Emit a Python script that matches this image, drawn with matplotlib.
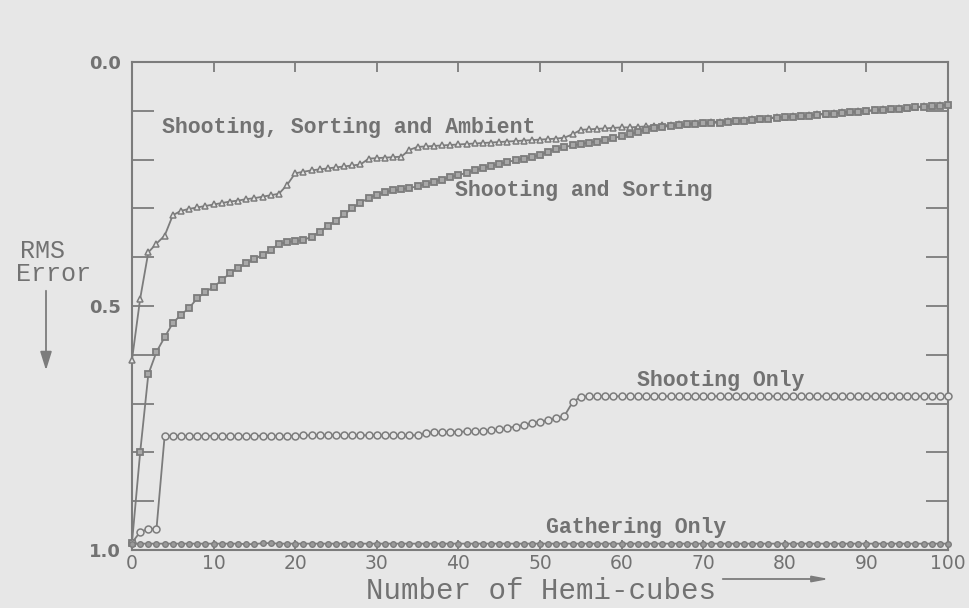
import matplotlib
matplotlib.use("Agg")
import matplotlib.pyplot as plt
from matplotlib.ticker import FixedLocator

# ---------------- data ----------------
hemicubes = list(range(0, 101))

# Shooting, Sorting and Ambient (starts with an extra point at x=0, error 1.0)
ambient_x = [0] + hemicubes
ambient_err = [0.985,
    0.610, 0.485, 0.390, 0.372, 0.356, 0.314, 0.305, 0.301, 0.298, 0.295,
    0.292, 0.289, 0.286, 0.284, 0.281, 0.279, 0.276, 0.273, 0.270, 0.252,
    0.228, 0.225, 0.222, 0.220, 0.218, 0.216, 0.214, 0.212, 0.210, 0.198,
    0.197, 0.196, 0.195, 0.194, 0.180, 0.174, 0.173, 0.172, 0.171, 0.170,
    0.169, 0.168, 0.167, 0.166, 0.165, 0.164, 0.163, 0.162, 0.161, 0.160,
    0.159, 0.158, 0.157, 0.155, 0.148, 0.139, 0.138, 0.137, 0.136, 0.135,
    0.134, 0.134, 0.133, 0.132, 0.131, 0.130, 0.129, 0.128, 0.127, 0.125,
    0.124, 0.123, 0.122, 0.121, 0.120, 0.119, 0.117, 0.116, 0.115, 0.113,
    0.112, 0.111, 0.110, 0.109, 0.107, 0.106, 0.105, 0.103, 0.102, 0.101,
    0.100, 0.098, 0.097, 0.096, 0.095, 0.094, 0.092, 0.091, 0.090, 0.089, 0.087]

# Shooting and Sorting
sorting_err = [
    0.985, 0.800, 0.640, 0.594, 0.564, 0.535, 0.518, 0.504, 0.484, 0.471,
    0.461, 0.447, 0.433, 0.422, 0.412, 0.404, 0.395, 0.385, 0.373, 0.369,
    0.367, 0.365, 0.358, 0.348, 0.336, 0.325, 0.312, 0.300, 0.288, 0.279,
    0.272, 0.267, 0.263, 0.261, 0.258, 0.255, 0.250, 0.245, 0.241, 0.236,
    0.232, 0.227, 0.222, 0.217, 0.213, 0.209, 0.205, 0.201, 0.198, 0.195,
    0.190, 0.184, 0.178, 0.174, 0.171, 0.168, 0.165, 0.163, 0.160, 0.156,
    0.152, 0.148, 0.143, 0.139, 0.136, 0.133, 0.131, 0.130, 0.128, 0.127,
    0.126, 0.125, 0.124, 0.122, 0.121, 0.120, 0.118, 0.117, 0.116, 0.114,
    0.113, 0.112, 0.111, 0.110, 0.108, 0.107, 0.106, 0.104, 0.103, 0.102,
    0.101, 0.099, 0.098, 0.097, 0.096, 0.095, 0.093, 0.092, 0.091, 0.090, 0.088]

# Shooting Only
shooting_err = [
    0.985, 0.963, 0.957, 0.957, 0.766, 0.766, 0.766, 0.766, 0.766, 0.766,
    0.766, 0.766, 0.766, 0.766, 0.766, 0.766, 0.766, 0.766, 0.766, 0.766,
    0.766, 0.765, 0.765, 0.765, 0.765, 0.765, 0.765, 0.765, 0.765, 0.765,
    0.765, 0.765, 0.765, 0.765, 0.765, 0.765, 0.760, 0.759, 0.759, 0.758,
    0.758, 0.757, 0.757, 0.756, 0.755, 0.753, 0.750, 0.747, 0.744, 0.740,
    0.737, 0.734, 0.730, 0.725, 0.697, 0.686, 0.685, 0.685, 0.685, 0.685,
    0.685, 0.685, 0.685, 0.685, 0.685, 0.685, 0.685, 0.685, 0.685, 0.685,
    0.685, 0.685, 0.685, 0.685, 0.685, 0.685, 0.685, 0.685, 0.685, 0.685,
    0.685, 0.685, 0.685, 0.685, 0.685, 0.685, 0.685, 0.685, 0.685, 0.685,
    0.685, 0.685, 0.685, 0.685, 0.685, 0.685, 0.685, 0.685, 0.685, 0.685, 0.685]

# Gathering Only
gathering_err = [
    0.987, 0.987, 0.987, 0.987, 0.987, 0.987, 0.987, 0.987, 0.987, 0.987,
    0.987, 0.987, 0.987, 0.987, 0.988, 0.988, 0.986, 0.986, 0.987, 0.987,
    0.987, 0.987, 0.987, 0.987, 0.987, 0.987, 0.987, 0.987, 0.987, 0.987,
    0.987, 0.987, 0.987, 0.987, 0.987, 0.987, 0.987, 0.987, 0.987, 0.987,
    0.987, 0.987, 0.987, 0.987, 0.987, 0.987, 0.987, 0.987, 0.987, 0.987,
    0.987, 0.987, 0.987, 0.987, 0.987, 0.987, 0.987, 0.987, 0.987, 0.987,
    0.987, 0.987, 0.987, 0.987, 0.987, 0.987, 0.987, 0.987, 0.987, 0.987,
    0.987, 0.987, 0.987, 0.987, 0.987, 0.987, 0.987, 0.987, 0.987, 0.987,
    0.987, 0.987, 0.987, 0.987, 0.987, 0.987, 0.987, 0.987, 0.987, 0.987,
    0.987, 0.987, 0.987, 0.987, 0.987, 0.987, 0.987, 0.987, 0.987, 0.987, 0.987]

x_ticks = [0, 10, 20, 30, 40, 50, 60, 70, 80, 90, 100]
y_major = [0.0, 0.5, 1.0]
y_major_labels = ["0.0", "0.5", "1.0"]
y_minor = [0.1, 0.2, 0.3, 0.4, 0.6, 0.7, 0.8, 0.9]

# ---------------- style ----------------
BG = "#e7e7e7"
LINE = "#7c7c7c"
TXT = "#727272"
MONO = ["Liberation Mono", "DejaVu Sans Mono"]

W, H = 970, 608
fig = plt.figure(figsize=(W / 100, H / 100), dpi=100, facecolor=BG)
L, R, T, B = 132, 948, 62, 550
ax = fig.add_axes([L / W, (H - B) / H, (R - L) / W, (B - T) / H], facecolor=BG)

ax.plot(ambient_x, ambient_err, color=LINE, lw=1.3, marker="^", ms=4.5,
        mfc=BG, mec=LINE, mew=1.1, clip_on=False, zorder=3)
ax.plot(hemicubes, sorting_err, color=LINE, lw=1.3, marker="s", ms=4.0,
        mfc="#a8a8a8", mec=LINE, mew=1.3, clip_on=False, zorder=3)
ax.plot(hemicubes, shooting_err, color=LINE, lw=1.3, marker="o", ms=5.0,
        mfc=BG, mec=LINE, mew=1.1, clip_on=False, zorder=3)
ax.plot(hemicubes, gathering_err, color=LINE, lw=1.3, marker="o", ms=4.0,
        mfc="#9a9a9a", mec=LINE, mew=1.0, clip_on=False, zorder=3)

ax.set_xlim(0, 100)
ax.set_ylim(1.0, 0.0)

for s in ax.spines.values():
    s.set_color(LINE)
    s.set_linewidth(1.5)

ax.xaxis.set_major_locator(FixedLocator(x_ticks))
ax.set_xticklabels([str(v) for v in x_ticks])
ax.yaxis.set_major_locator(FixedLocator(y_major))
ax.set_yticklabels(y_major_labels)
ax.yaxis.set_minor_locator(FixedLocator(y_minor))

ax.tick_params(axis="x", which="major", direction="in", top=True, bottom=True,
               length=7, width=1.3, color=LINE, labelcolor=TXT, labelsize=13.5, pad=3)
ax.tick_params(axis="y", which="both", direction="in", left=True, right=True,
               length=16, width=1.3, color=LINE, labelcolor=TXT, pad=8)
for lab in ax.get_yticklabels():
    lab.set_fontsize(13)
    lab.set_fontweight("bold")

def dx(px):
    return (px - L) / (R - L) * 100

def dy(py):
    return (py - T) / (B - T)

ann = dict(family=MONO, fontsize=15.5, color=TXT, ha="left", va="center", fontweight="bold")
ax.text(dx(162), dy(128), "Shooting, Sorting and Ambient", **ann)
ax.text(dx(455), dy(191), "Shooting and Sorting", **ann)
ax.text(dx(637), dy(381), "Shooting Only", **ann)
ax.text(dx(546), dy(527), "Gathering Only", **ann)

lab = dict(family=MONO, fontsize=18, color=TXT, ha="left", va="center")
fig.text(20 / W, 1 - 251 / H, "RMS", **lab)
fig.text(16 / W, 1 - 274 / H, "Error", **lab)
fig.text(366 / W, 1 - 591 / H, "Number of Hemi-cubes", fontsize=21,
         **{k: v for k, v in lab.items() if k != "fontsize"})

fig.patches.append(matplotlib.patches.FancyArrowPatch(
    (46 / W, 1 - 288 / H), (46 / W, 1 - 373 / H), transform=fig.transFigure,
    arrowstyle="-|>,head_length=0.8,head_width=0.25", mutation_scale=14,
    color=LINE, lw=1.3))
fig.patches.append(matplotlib.patches.FancyArrowPatch(
    (720 / W, 1 - 579 / H), (832 / W, 1 - 579 / H), transform=fig.transFigure,
    arrowstyle="-|>,head_length=0.8,head_width=0.15", mutation_scale=12,
    color=LINE, lw=1.3))

fig.savefig("out.png", dpi=100, facecolor=BG)
